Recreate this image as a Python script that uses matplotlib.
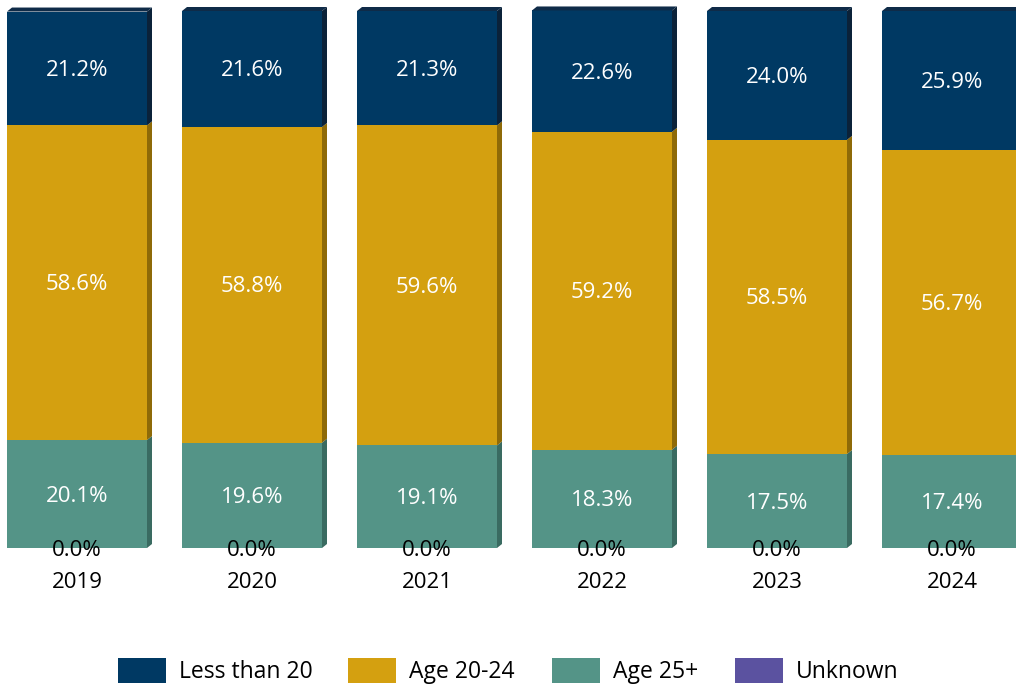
import matplotlib
matplotlib.use("Agg")
import matplotlib.pyplot as plt
from matplotlib.patches import Polygon, Rectangle

years = ["2019", "2020", "2021", "2022", "2023", "2024"]
less_than_20 = [21.2, 21.6, 21.3, 22.6, 24.0, 25.9]
age_20_24 = [58.6, 58.8, 59.6, 59.2, 58.5, 56.7]
age_25_plus = [20.1, 19.6, 19.1, 18.3, 17.5, 17.4]
unknown = [0.0, 0.0, 0.0, 0.0, 0.0, 0.0]

series = [
    ("Unknown", unknown, "#5B52A0", "#3E3870"),
    ("Age 25+", age_25_plus, "#549487", "#3A6B61"),
    ("Age 20-24", age_20_24, "#D4A010", "#8E6A08"),
    ("Less than 20", less_than_20, "#003963", "#0B2239"),
]
legend_order = ["Less than 20", "Age 20-24", "Age 25+", "Unknown"]

plt.rcParams['font.family'] = ['Open Sans', 'DejaVu Sans']
W, H = 1016, 688
fig = plt.figure(figsize=(W / 100, H / 100), dpi=100)

# pixel geometry
px_per_unit = 175.0
c0 = 77.0
y0px, y100px = 548.0, 11.0
ax = fig.add_axes([0, (H - y0px) / H, 1, y0px / H])
ax.set_xlim((0 - c0) / px_per_unit, (W - c0) / px_per_unit)
ax.set_ylim(0, 100 * y0px / (y0px - y100px))
ax.axis("off")
upp = 100 / (y0px - y100px)  # data units per pixel

width = 0.8
dx = 5 / px_per_unit
dy = 4 * upp
top_color = "#0F2B48"

x = list(range(len(years)))
bottoms = [0.0] * len(years)
for name, vals, col, side in series:
    ax.bar(x, vals, width=width, bottom=bottoms, color=col, linewidth=0, zorder=2)
    for i, v in enumerate(vals):
        b = bottoms[i]
        xr = x[i] + width / 2
        if v > 0:
            ax.add_patch(Polygon([(xr, b), (xr + dx, b + dy), (xr + dx, b + v + dy), (xr, b + v)],
                                 closed=True, facecolor=side, edgecolor="none", zorder=2, clip_on=False))
        tc = "black" if v == 0 else "white"
        ax.text(x[i], b + v / 2 - 2 * upp, f"{v:.1f}%", ha="center", va="center", fontsize=16,
                color=tc, zorder=5, clip_on=False)
    bottoms = [bottoms[i] + vals[i] for i in range(len(years))]

# top faces
for i in range(len(years)):
    t = bottoms[i]
    xl = x[i] - width / 2
    xr = x[i] + width / 2
    ax.add_patch(Polygon([(xl, t), (xl + dx, t + dy), (xr + dx, t + dy), (xr, t)],
                         closed=True, facecolor=top_color, edgecolor="none", zorder=2, clip_on=False))

# year labels
for i, yr in enumerate(years):
    ax.text(x[i], -34 * upp, yr, ha="center", va="center",
            fontsize=16, color="black", clip_on=False)

# legend (manual)
colors = {n: c for n, _, c, _ in series}
leg_x = [118, 348, 552, 735]
for n, lx in zip(legend_order, leg_x):
    fig.add_artist(Rectangle((lx / W, (H - 683) / H), 48 / W, 25 / H,
                             transform=fig.transFigure, facecolor=colors[n], edgecolor="none"))
    fig.text((lx + 61) / W, (H - 672) / H, n, ha="left", va="center", fontsize=16.5, color="black")

fig.savefig("out.png", dpi=100)
